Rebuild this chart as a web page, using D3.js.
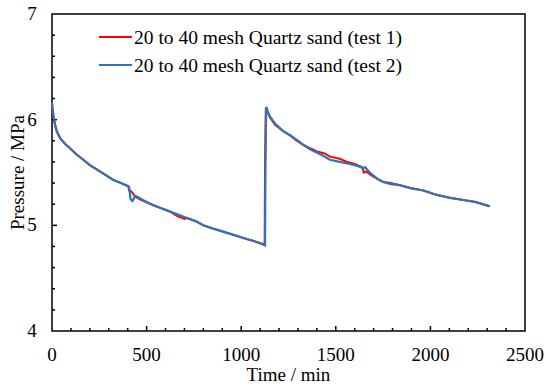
<!DOCTYPE html>
<html>
<head>
<meta charset="utf-8">
<script src="https://cdn.jsdelivr.net/npm/d3@7"></script>
<style>
  body { margin: 0; background: #fff; }
  svg text { font-family: 'Liberation Serif', 'Times New Roman', Times, serif; }
</style>
</head>
<body>
<script>
const WIDTH = 550;
const HEIGHT = 388;
const MARGIN = {left: 52, right: 25, top: 14, bottom: 57};

// test 1 (red)
var time1 = [0, 3, 8, 15, 25, 45, 70, 95, 130, 166, 200, 236, 280, 324, 365, 403, 408, 420, 440, 470, 536, 580, 624, 660, 700, 712, 760, 800, 850, 905, 960, 1011, 1070, 1124, 1126, 1130, 1140, 1152, 1180, 1223, 1260, 1293, 1330, 1364, 1400, 1440, 1469, 1520, 1560, 1600, 1640, 1648, 1660, 1690, 1720, 1751, 1790, 1839, 1900, 1963, 2030, 2104, 2174, 2240, 2310];
var pres1 = [6.16, 6.10, 6.03, 5.96, 5.89, 5.82, 5.77, 5.73, 5.67, 5.62, 5.57, 5.53, 5.48, 5.43, 5.40, 5.37, 5.33, 5.32, 5.27, 5.24, 5.19, 5.16, 5.13, 5.09, 5.06, 5.07, 5.04, 5.00, 4.97, 4.94, 4.91, 4.88, 4.85, 4.82, 5.6, 6.11, 6.07, 6.02, 5.95, 5.89, 5.85, 5.80, 5.76, 5.73, 5.70, 5.68, 5.65, 5.63, 5.60, 5.58, 5.55, 5.50, 5.51, 5.47, 5.44, 5.41, 5.40, 5.38, 5.35, 5.33, 5.29, 5.26, 5.24, 5.22, 5.18];

// test 2 (blue)
var time2 = [0, 3, 8, 15, 25, 45, 70, 95, 130, 166, 200, 236, 280, 324, 365, 403, 408, 415, 425, 432, 440, 450, 480, 536, 580, 624, 670, 712, 760, 800, 850, 905, 960, 1011, 1070, 1126, 1128, 1132, 1140, 1152, 1180, 1223, 1260, 1293, 1330, 1364, 1420, 1469, 1520, 1575, 1620, 1645, 1655, 1680, 1720, 1751, 1790, 1839, 1900, 1963, 2030, 2104, 2174, 2240, 2315];
var pres2 = [6.16, 6.10, 6.03, 5.96, 5.89, 5.82, 5.77, 5.73, 5.67, 5.62, 5.57, 5.53, 5.48, 5.43, 5.40, 5.37, 5.36, 5.25, 5.23, 5.25, 5.28, 5.27, 5.24, 5.19, 5.16, 5.13, 5.10, 5.07, 5.04, 5.00, 4.97, 4.94, 4.91, 4.88, 4.85, 4.81, 5.5, 6.12, 6.08, 6.03, 5.96, 5.89, 5.85, 5.81, 5.76, 5.72, 5.67, 5.62, 5.60, 5.58, 5.56, 5.54, 5.55, 5.50, 5.44, 5.41, 5.39, 5.38, 5.35, 5.33, 5.29, 5.26, 5.24, 5.22, 5.18];

var seriesNames = ['20 to 40 mesh Quartz sand (test 1)', '20 to 40 mesh Quartz sand (test 2)'];
var seriesColors = ['#ff0000', '#2e75b6'];
var xTicks = [0, 500, 1000, 1500, 2000, 2500];
var yTicks = [4, 5, 6, 7];

var svg = d3.select('body').append('svg')
  .attr('width', WIDTH)
  .attr('height', HEIGHT)
  .style('font-size', '19px');

var x = d3.scaleLinear().domain([0, 2500]).range([MARGIN.left, WIDTH - MARGIN.right]);
var y = d3.scaleLinear().domain([4, 7]).range([HEIGHT - MARGIN.bottom, MARGIN.top]);

// minor ticks (inside)
var xMinor = d3.range(100, 2500, 100).filter(function(d){ return d % 500 != 0; });
var yMinor = d3.range(4.2, 7, 0.2).filter(function(d){ return Math.abs(d - Math.round(d)) > 0.01; });

var g = svg.append('g');

g.selectAll('.xminor').data(xMinor).enter().append('line')
  .attr('x1', function(d){ return x(d); }).attr('x2', function(d){ return x(d); })
  .attr('y1', y(4)).attr('y2', y(4) - 3)
  .attr('stroke', '#000').attr('stroke-width', 1.5);
g.selectAll('.xmajor').data(xTicks.slice(1, -1)).enter().append('line')
  .attr('x1', function(d){ return x(d); }).attr('x2', function(d){ return x(d); })
  .attr('y1', y(4)).attr('y2', y(4) - 5)
  .attr('stroke', '#000').attr('stroke-width', 1.5);
g.selectAll('.yminor').data(yMinor).enter().append('line')
  .attr('x1', x(0)).attr('x2', x(0) + 3)
  .attr('y1', function(d){ return y(d); }).attr('y2', function(d){ return y(d); })
  .attr('stroke', '#000').attr('stroke-width', 1.5);
g.selectAll('.ymajor').data(yTicks.slice(1, -1)).enter().append('line')
  .attr('x1', x(0)).attr('x2', x(0) + 5)
  .attr('y1', function(d){ return y(d); }).attr('y2', function(d){ return y(d); })
  .attr('stroke', '#000').attr('stroke-width', 1.5);

// frame
svg.append('rect')
  .attr('x', x(0)).attr('y', y(7))
  .attr('width', x(2500) - x(0)).attr('height', y(4) - y(7))
  .attr('fill', 'none').attr('stroke', '#000').attr('stroke-width', 1.5);

// tick labels
svg.selectAll('.xl').data(xTicks).enter().append('text')
  .attr('x', function(d){ return x(d); })
  .attr('y', y(4) + 30)
  .attr('text-anchor', 'middle')
  .text(function(d){ return d; });
svg.selectAll('.yl').data(yTicks).enter().append('text')
  .attr('x', x(0) - 20)
  .attr('y', function(d){ return y(d) + 6; })
  .attr('text-anchor', 'middle')
  .text(function(d){ return d; });

// axis titles
svg.append('text')
  .attr('x', (x(0) + x(2500)) / 2)
  .attr('y', 381)
  .attr('text-anchor', 'middle')
  .text('Time / min');
svg.append('text')
  .attr('transform', 'translate(24,' + ((y(4) + y(7)) / 2) + ') rotate(-90)')
  .attr('text-anchor', 'middle')
  .text('Pressure  / MPa');

// lines
var line = d3.line()
  .x(function(d){ return x(d[0]); })
  .y(function(d){ return y(d[1]); });

var data1 = time1.map(function(t, i){ return [t, pres1[i]]; });
var data2 = time2.map(function(t, i){ return [t, pres2[i]]; });

svg.append('path').datum(data1)
  .attr('d', line)
  .attr('fill', 'none')
  .attr('stroke', seriesColors[0])
  .attr('stroke-width', 2);
svg.append('path').datum(data2)
  .attr('d', line)
  .attr('fill', 'none')
  .attr('stroke', seriesColors[1])
  .attr('stroke-width', 2.2);

// legend
var leg = svg.append('g');
seriesNames.forEach(function(name, i){
  var ly = 37 + i * 28;
  leg.append('line')
    .attr('x1', 99).attr('x2', 132)
    .attr('y1', ly).attr('y2', ly)
    .attr('stroke', seriesColors[i]).attr('stroke-width', 2.2);
  leg.append('text')
    .attr('x', 134).attr('y', ly + 7)
    .style('font-size', '19.5px')
    .text(name);
});
</script>
</body>
</html>
